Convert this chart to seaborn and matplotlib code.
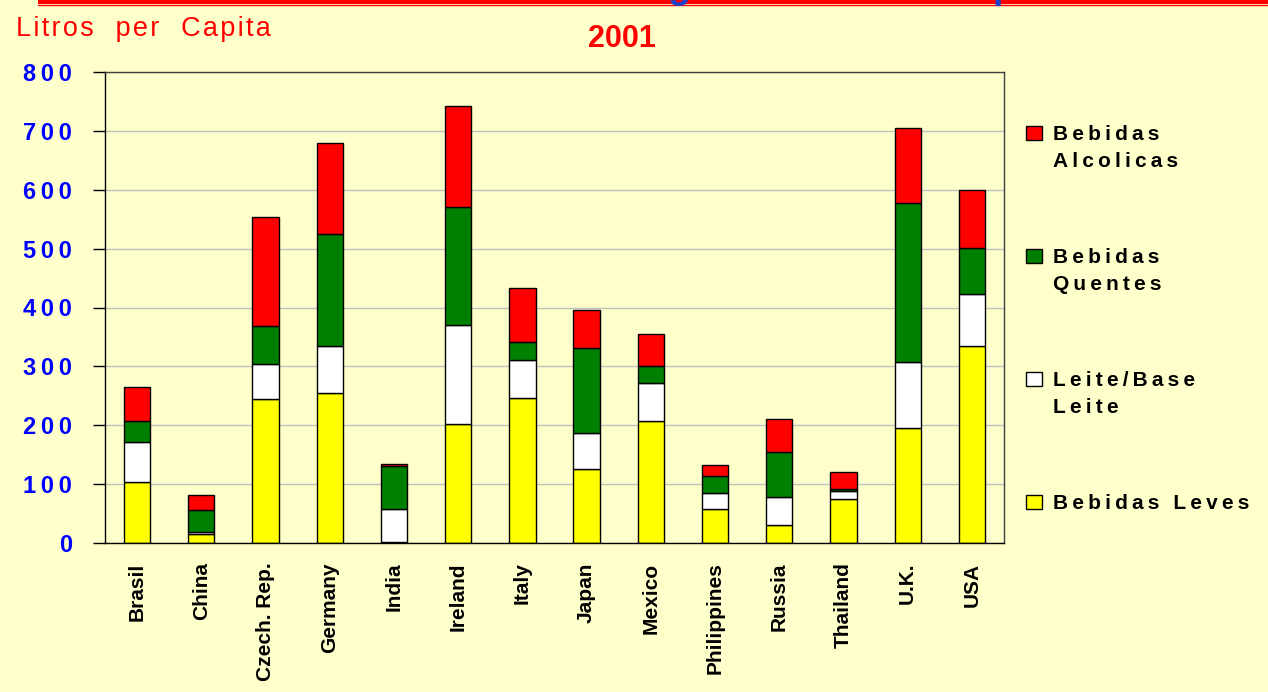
import matplotlib
matplotlib.use('Agg')
import matplotlib.pyplot as plt
from matplotlib.patches import Rectangle
from matplotlib.lines import Line2D
import numpy as np
import pandas as pd
import seaborn as sns

# Dados (litros per capita, 2001)
paises = ['Brasil', 'China', 'Czech. Rep.', 'Germany', 'India', 'Ireland', 'Italy',
          'Japan', 'Mexico', 'Philippines', 'Russia', 'Thailand', 'U.K.', 'USA']
leves = [104, 15, 245, 254, 2, 202, 247, 126, 208, 58, 31, 75, 195, 335]
leite = [67, 4, 59, 80, 56, 168, 64, 61, 63, 27, 47, 13, 112, 88]
quentes = [37, 37, 65, 191, 72, 200, 30, 145, 29, 28, 76, 3, 270, 78]
alcolicas = [57, 26, 185, 154, 5, 172, 92, 64, 55, 20, 57, 30, 128, 98]

series = ['Bebidas Leves', 'Leite/Base Leite', 'Bebidas Quentes', 'Bebidas Alcolicas']
cores = ['#FFFF00', '#FFFFFF', '#008000', '#FF0000']
legenda = ['Bebidas Leves', 'Leite/Base\nLeite', 'Bebidas\nQuentes', 'Bebidas\nAlcolicas']
yticks = [0, 100, 200, 300, 400, 500, 600, 700, 800]
ytick_labels = ['0', '100', '200', '300', '400', '500', '600', '700', '800']

df = pd.DataFrame({'pais': paises, series[0]: leves, series[1]: leite,
                   series[2]: quentes, series[3]: alcolicas})

W, H = 1268, 692
fundo = '#FFFFCC'


def px(x, y):
    # pixel (a partir do topo) -> fracao da figura
    return x / W, 1 - y / H


def spaced(s, gap='\u2009'):
    return '\n'.join(gap.join(linha) for linha in s.split('\n'))


sns.set_style('white')
plt.rcParams['font.family'] = ['Liberation Sans', 'DejaVu Sans']

fig = plt.figure(figsize=(W / 100, H / 100), dpi=100, facecolor=fundo)
x0, y0 = px(105, 543)
ax = fig.add_axes([x0, y0, 899 / W, 471 / H])
ax.set_facecolor(fundo)

base = np.zeros(len(paises))
for serie, cor in zip(series, cores):
    sns.barplot(data=df, x='pais', y=serie, order=paises, color=cor, saturation=1,
                width=0.41, bottom=base, edgecolor='black', linewidth=1, ax=ax)
    base = base + df[serie].values

ax.set_xlim(-0.5, len(paises) - 0.5)
ax.set_ylim(0, 800)
ax.set_xlabel('')
ax.set_ylabel('')

ax.set_xticks(range(len(paises)))
ax.set_xticklabels(paises, rotation=90, fontweight='bold', fontsize=15, color='black')
ax.set_xticks(np.arange(-0.5, len(paises), 1), minor=True)
ax.tick_params(axis='x', which='major', length=0, pad=14)
ax.tick_params(axis='x', which='minor', length=5.5, width=1, color='black', direction='out')

ax.set_yticks(yticks)
ax.set_yticklabels([spaced(t) for t in ytick_labels], fontweight='bold', fontsize=17, color='#0000FF')
ax.tick_params(axis='y', length=8.6, width=1, color='black', pad=15, direction='out', left=True)

ax.yaxis.grid(True, color='#C0C0C0', linewidth=1)
ax.set_axisbelow(True)
for lado in ['left', 'bottom']:
    ax.spines[lado].set_color('black')
    ax.spines[lado].set_linewidth(1)
for lado in ['top', 'right']:
    ax.spines[lado].set_color('#404040')
    ax.spines[lado].set_linewidth(1)

# textos do topo
fig.text(*px(16, 36), spaced('Litros  per  Capita', '\u200a'), color='#FF0000', fontsize=19.5, va='baseline')
fig.text(*px(622, 47), '2001', color='#FF0000', fontsize=22, fontweight='bold', ha='center', va='baseline')

# faixa vermelha no topo e restos do titulo cortado
fig.add_artist(Rectangle(px(38, 3.5), 1 - 38 / W, 3.5 / H, transform=fig.transFigure,
                         facecolor='#FF0000', edgecolor='none', zorder=1))
fig.add_artist(Line2D([38 / W, 1], [1 - 5 / H] * 2, transform=fig.transFigure,
                      color='#FF0000', linewidth=1, zorder=2))
fig.text(*px(678.5, -2), 'g', color='#1E40C8', fontsize=27, fontweight='bold',
         ha='center', va='baseline', zorder=3)
fig.text(*px(993, -2), 'p', color='#1E40C8', fontsize=27, fontweight='bold',
         ha='left', va='baseline', zorder=3)

# legenda (de cima para baixo)
for i, (rotulo, cor) in enumerate(zip(legenda[::-1], cores[::-1])):
    yc = 133 + i * 123
    fig.add_artist(Rectangle(px(1026, yc + 7), 16 / W, 14 / H, transform=fig.transFigure,
                             facecolor=cor, edgecolor='black', linewidth=1))
    fig.text(*px(1053, yc - 8), spaced(rotulo), fontsize=15, fontweight='bold',
             color='black', va='top', linespacing=1.55)

fig.savefig('out.png', dpi=100, facecolor=fundo)
